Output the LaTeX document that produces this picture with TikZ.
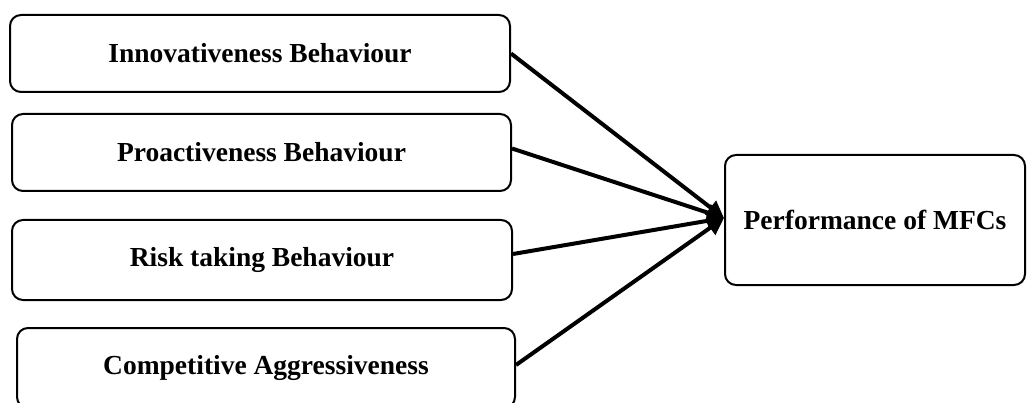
\documentclass[tikz,border=0pt]{standalone}
\usepackage{fontspec}
\setmainfont{Liberation Serif}
\usetikzlibrary{arrows.meta}
\begin{document}
\begin{tikzpicture}[x=1pt,y=-1pt,
  box/.style={draw, line width=2pt, rounded corners=11pt, inner sep=0pt,
    font=\fontsize{27.5}{32}\selectfont\bfseries},
  link/.style={line width=4pt, -{Triangle[length=17pt,width=17pt]}}]
\useasboundingbox (0,0) rectangle (1027,403);
\node[box, minimum width=500pt, minimum height=77pt] (b1) at (260,53.5) {Innovativeness Behaviour};
\node[box, minimum width=499pt, minimum height=77pt] (b2) at (261.5,152.5) {Proactiveness Behaviour};
\node[box, minimum width=500pt, minimum height=80pt] (b3) at (262,260) {Risk taking Behaviour};
\node[box, minimum width=498pt, minimum height=80pt] (b4) at (266,368) {Competitive Aggressiveness};
\node[box, minimum width=300pt, minimum height=130pt] (m) at (875,220) {Performance of MFCs};
\coordinate (tip) at ([yshift=2pt]m.west);
\draw[link] (b1.east) -- (tip);
\draw[link] ([yshift=4pt]b2.east) -- (tip);
\draw[link] ([yshift=6pt]b3.east) -- (tip);
\draw[link] ([yshift=3pt]b4.east) -- (tip);
\end{tikzpicture}
\end{document}
